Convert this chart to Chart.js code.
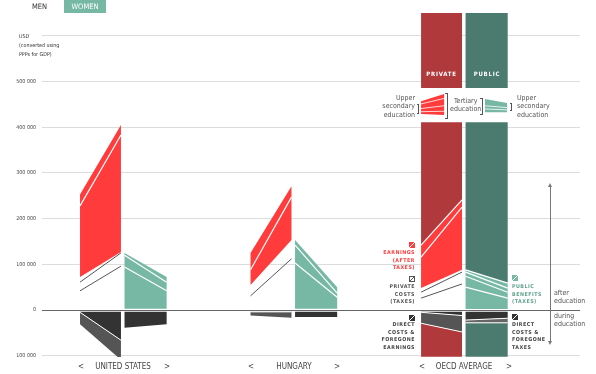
<!DOCTYPE html>
<html>
<head>
<meta charset="utf-8">
<script src="https://cdn.jsdelivr.net/npm/chart.js@4.4.1/dist/chart.umd.min.js"></script>
<style>
  body { margin: 0; background: #fff; }
  #wrap { position: relative; width: 596px; height: 374px; overflow: hidden; }
  #grafico { position: absolute; left: 0; top: 0; }
  .t { position: absolute; font-family: "DejaVu Sans Condensed", "Liberation Sans Narrow", "DejaVu Sans", sans-serif; font-stretch: condensed; white-space: nowrap; line-height: 1; }
  .note { font-size: 5.3px; font-weight: bold; letter-spacing: 0.5px; line-height: 7.6px; }
  .r { text-align: right; }
  .ico { position: absolute; width: 6px; height: 6px; box-sizing: border-box; }
  .leg { font-size: 7px; color: #555; line-height: 8.4px; }
  .cty { font-size: 8px; color: #444; top: 363px; }
</style>
</head>
<body>
<div id="wrap">
  <canvas id="grafico" width="596" height="374"></canvas>

  <div class="t" style="left:32px;top:3px;font-size:7.5px;color:#333">MEN</div>
  <div class="t" style="left:64px;top:0;width:42px;height:13px;background:#77b8a5;color:#fff;font-size:7.5px;line-height:13px;text-align:center">WOMEN</div>

  <div class="t" style="left:19px;top:32px;font-size:5.3px;line-height:9px;color:#333">USD<br>(converted using<br>PPPs for GDP)</div>

  <div class="t" style="left:421px;top:71px;width:41px;text-align:center;color:#fff;font-size:6px;font-weight:bold;letter-spacing:0.8px">PRIVATE</div>
  <div class="t" style="left:466px;top:71px;width:42px;text-align:center;color:#fff;font-size:6px;font-weight:bold;letter-spacing:0.8px">PUBLIC</div>

  <div class="t leg r" style="right:181px;top:94px">Upper<br>secondary<br>education</div>
  <div class="t" style="left:417px;top:104px;width:2px;height:10px;border-top:1px solid #555;border-bottom:1px solid #555;box-sizing:border-box"></div>
  <div class="t" style="left:417.5px;top:104px;width:1px;height:10px;background:#555"></div>
  <div class="t" style="left:445px;top:93px;width:2px;height:24px;border:1px solid #555;border-left:none"></div>
  <div class="t leg" style="left:450px;top:97px;text-align:center">Tertiary<br>education</div>
  <div class="t" style="left:480px;top:98px;width:2px;height:15px;border:1px solid #555;border-left:none"></div>
  <div class="t" style="left:510px;top:103px;width:2px;height:8px;border-top:1px solid #555;border-bottom:1px solid #555;box-sizing:border-box"></div>
  <div class="t" style="left:510.5px;top:103px;width:1px;height:8px;background:#555"></div>
  <div class="t leg" style="left:517px;top:94px">Upper<br>secondary<br>education</div>

  <i class="ico" style="left:409px;top:242px;background:#ff3b3b linear-gradient(to bottom right, transparent 42%, #fff 42%, #fff 58%, transparent 58%)"></i>
  <div class="t note r" style="right:181px;top:249px;color:#ff3b3b">EARNINGS<br>(AFTER<br>TAXES)</div>
  <i class="ico" style="left:409px;top:276px;border:1px solid #555;background:linear-gradient(to bottom right, transparent 40%, #555 40%, #555 60%, transparent 60%)"></i>
  <div class="t note r" style="right:181px;top:283px;color:#555">PRIVATE<br>COSTS<br>(TAXES)</div>
  <i class="ico" style="left:409px;top:315px;background:#333 linear-gradient(to bottom right, transparent 42%, #fff 42%, #fff 58%, transparent 58%)"></i>
  <div class="t note r" style="right:181px;top:321px;color:#444">DIRECT<br>COSTS &amp;<br>FOREGONE<br>EARNINGS</div>

  <i class="ico" style="left:512px;top:275px;background:#77b8a5 linear-gradient(to bottom right, transparent 42%, #fff 42%, #fff 58%, transparent 58%)"></i>
  <div class="t note" style="left:512px;top:283px;color:#5fa08d">PUBLIC<br>BENEFITS<br>(TAXES)</div>
  <i class="ico" style="left:512px;top:314px;background:#333 linear-gradient(to bottom right, transparent 42%, #fff 42%, #fff 58%, transparent 58%)"></i>
  <div class="t note" style="left:512px;top:321px;color:#444">DIRECT<br>COSTS &amp;<br>FOREGONE<br>TAXES</div>

  <div class="t" style="left:550px;top:185px;width:1px;height:158px;background:#777"></div>
  <div class="t" style="left:548px;top:183px;width:0;height:0;border-left:2.5px solid transparent;border-right:2.5px solid transparent;border-bottom:4px solid #777"></div>
  <div class="t" style="left:548px;top:341px;width:0;height:0;border-left:2.5px solid transparent;border-right:2.5px solid transparent;border-top:4px solid #777"></div>
  <div class="t leg" style="left:554px;top:290px;line-height:7.6px">after<br>education</div>
  <div class="t leg" style="left:554px;top:313px;line-height:7.6px">during<br>education</div>

  <div class="t cty" style="left:78px">&lt;</div>
  <div class="t cty" style="left:95px;width:56px;text-align:center">UNITED STATES</div>
  <div class="t cty" style="left:164px">&gt;</div>
  <div class="t cty" style="left:248px">&lt;</div>
  <div class="t cty" style="left:266px;width:56px;text-align:center">HUNGARY</div>
  <div class="t cty" style="left:334px">&gt;</div>
  <div class="t cty" style="left:419px">&lt;</div>
  <div class="t cty" style="left:432px;width:64px;text-align:center">OECD AVERAGE</div>
  <div class="t cty" style="left:506px">&gt;</div>
</div>

<script>
// USD per person, private pairs = [upper secondary, tertiary]
const countries = ['UNITED STATES', 'HUNGARY', 'OECD AVERAGE'];
const earningsTop = [[253000, 405000], [125000, 271000], [142000, 241000]];
const earningsSplit = [[228000, 383000], [88000, 247000], [116000, 225000]];
const earningsBase = [[72000, 127000], [55000, 153000], [48000, 88000]];
const privateTaxUpper = [[61000, 125000], null, [39000, 83000]];
const privateTaxLower = [[42000, 96000], [31000, 112000], [26000, 57000]];
const privateDuringTop = [[-4000, -4000], [-4000, -4000], [-4000, -4000]];
const privateDirectBottom = [[-5000, -66000], [-4000, -4000], [-5000, -12000]];
const privateForegoneBottom = [[-31000, -109000], [-12000, -17000], [-29000, -48000]];

// public pairs = [tertiary, upper secondary]
const publicTop = [[125000, 72000], [153000, 50000], [88000, 59000]];
const publicSplits = [
  [[120000, 61000], [94000, 42000]],
  [[142000, 37000], [103000, 28000]],
  [[83000, 48000], [74000, 39000], [50000, 26000]]
];
const publicBase = [[3000, 3000], [3000, 3000], [2000, 2000]];
const publicDuringTop = [[-4000, -4000], [-4000, -4000], [-4000, -4000]];
const publicDirectBottom = [[-39000, -31000], [-15000, -15000], [-22000, -18000]];
const publicForegoneBottom = [[-39000, -31000], [-15000, -15000], [-28000, -28000]];

// OECD average columns
const columnTop = 411000;
const columnBottom = -102000;
const labelBox = [486000, 650000];

// small legend glyphs above the OECD columns
const legendRedTop = [457000, 473000];
const legendRedBottom = [429000, 427000];
const legendRedSplits = [[451000, 463000], [441000, 447000], [434000, 435000]];
const legendTealTop = [462000, 453000];
const legendTealBottom = [433000, 433000];
const legendTealSplits = [[447000, 443000], [440000, 438000]];

const yTicks = [-100000, 0, 100000, 200000, 300000, 400000, 500000, 600000];

const vermelho = '#ff3b3b', vermelhoEsc = '#b0393b', verde = '#77b8a5', verdeEsc = '#4b7a6e';
const PRIV = [-0.252, -0.012];
const PUB = [0.009, 0.256];

const datasets = [];

function area(i, lado, baixo, cima, cor) {
  const x0 = i + lado[0], x1 = i + lado[1];
  datasets.push({
    data: [{x: x0, y: baixo[0]}, {x: x0, y: cima[0]}, {x: x1, y: cima[1]}, {x: x1, y: baixo[1]}, {x: x0, y: baixo[0]}],
    fill: 'shape', backgroundColor: cor, borderColor: 'rgba(0,0,0,0)', borderWidth: 0
  });
}

function linha(i, lado, v, cor, largura) {
  datasets.push({
    data: [{x: i + lado[0], y: v[0]}, {x: i + lado[1], y: v[1]}],
    fill: false, borderColor: cor, borderWidth: largura
  });
}

const flat = v => [v, v];

countries.forEach((nome, i) => {
  const oecd = i === 2;
  // private side, after education
  if (oecd) area(i, PRIV, earningsTop[i], flat(columnTop), vermelhoEsc);
  area(i, PRIV, earningsBase[i], earningsTop[i], vermelho);
  linha(i, PRIV, earningsSplit[i], '#fff', 1.2);
  if (oecd) linha(i, PRIV, earningsTop[i], '#fff', 1.2);
  if (privateTaxUpper[i]) linha(i, PRIV, privateTaxUpper[i], '#555', 1);
  linha(i, PRIV, privateTaxLower[i], '#555', 1);
  // private side, during education
  area(i, PRIV, privateDirectBottom[i], privateDuringTop[i], '#333');
  area(i, PRIV, privateForegoneBottom[i], privateDirectBottom[i], '#555');
  linha(i, PRIV, privateDirectBottom[i], '#fff', 1);
  if (oecd) {
    area(i, PRIV, flat(columnBottom), privateForegoneBottom[i], vermelhoEsc);
    linha(i, PRIV, privateForegoneBottom[i], '#fff', 1);
  }

  // public side
  if (oecd) area(i, PUB, publicTop[i], flat(columnTop), verdeEsc);
  area(i, PUB, publicBase[i], publicTop[i], verde);
  if (oecd) linha(i, PUB, publicTop[i], '#fff', 1.2);
  publicSplits[i].forEach(s => linha(i, PUB, s, '#fff', 1.2));
  area(i, PUB, publicDirectBottom[i], publicDuringTop[i], '#333');
  if (publicForegoneBottom[i][0] !== publicDirectBottom[i][0]) {
    area(i, PUB, publicForegoneBottom[i], publicDirectBottom[i], '#666');
    linha(i, PUB, publicDirectBottom[i], '#fff', 1);
  }
  if (oecd) {
    area(i, PUB, flat(columnBottom), publicForegoneBottom[i], verdeEsc);
    linha(i, PUB, publicForegoneBottom[i], '#fff', 1);
    area(i, PRIV, flat(labelBox[0]), flat(labelBox[1]), vermelhoEsc);
    area(i, PUB, flat(labelBox[0]), flat(labelBox[1]), verdeEsc);
    // legend glyphs
    const LR = [-0.252, -0.117], LT = [0.123, 0.252];
    area(i, LR, legendRedBottom, legendRedTop, vermelho);
    legendRedSplits.forEach(s => linha(i, LR, s, '#fff', 0.8));
    area(i, LT, legendTealBottom, legendTealTop, verde);
    legendTealSplits.forEach(s => linha(i, LT, s, '#fff', 0.8));
  }
});

datasets.forEach((d, k) => {
  d.order = 1000 - k;
  d.pointRadius = 0;
  d.tension = 0;
});

function milhar(v) {
  return String(Math.abs(v)).replace(/\B(?=(\d{3})+(?!\d))/g, ' ');
}

const grafico = document.getElementById('grafico');
const meuGrafico = new Chart(grafico, {
  type: 'line',
  data: { datasets: datasets },
  options: {
    responsive: false,
    animation: false,
    events: [],
    layout: { padding: { top: 13, right: 16, bottom: 17, left: 0 } },
    plugins: { legend: { display: false }, tooltip: { enabled: false } },
    scales: {
      x: { type: 'linear', display: false, min: -0.475, max: 2.68 },
      y: {
        type: 'linear',
        min: -102800,
        max: 650000,
        afterBuildTicks: s => { s.ticks = yTicks.map(v => ({ value: v })); },
        afterFit: s => { s.width = 42; },
        border: { display: false },
        grid: {
          drawTicks: false,
          color: c => c.tick && c.tick.value === 0 ? '#666' : '#dcdcdc',
          lineWidth: 1
        },
        ticks: {
          padding: 6,
          color: '#444',
          font: { family: 'DejaVu Sans Condensed', size: 5.3 },
          callback: v => v === 600000 ? '' : milhar(v)
        }
      }
    }
  }
});
</script>
</body>
</html>
